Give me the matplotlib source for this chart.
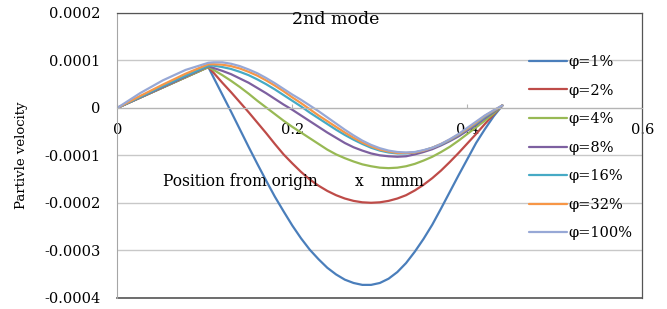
import numpy as np
import matplotlib
matplotlib.use("Agg")
import matplotlib.pyplot as plt

# position from origin (mm) at which the velocities were read
X = [0, 0.026, 0.052, 0.078, 0.104,
     0.11, 0.12, 0.13, 0.14, 0.15, 0.16, 0.17, 0.18, 0.19, 0.20,
     0.21, 0.22, 0.23, 0.24, 0.25, 0.26, 0.27, 0.28, 0.29, 0.30,
     0.31, 0.32, 0.33, 0.34, 0.35, 0.36, 0.37, 0.38, 0.39, 0.40,
     0.41, 0.42, 0.43, 0.44]

# particle velocity, in units of 1e-4
V_1 = [0, 0.215, 0.43, 0.645, 0.86,
       0.64, 0.28, -0.08, -0.45, -0.82, -1.18, -1.53, -1.87, -2.18, -2.48,
       -2.75, -2.99, -3.19, -3.37, -3.51, -3.62, -3.69, -3.73, -3.73, -3.69,
       -3.60, -3.46, -3.27, -3.03, -2.76, -2.46, -2.12, -1.77, -1.42, -1.08,
       -0.74, -0.45, -0.18, 0.05]
V_2 = [0, 0.215, 0.43, 0.645, 0.86,
       0.74, 0.53, 0.33, 0.12, -0.09, -0.31, -0.53, -0.76, -0.98, -1.17,
       -1.35, -1.51, -1.64, -1.75, -1.84, -1.91, -1.96, -1.99, -2.00, -1.99,
       -1.96, -1.91, -1.84, -1.74, -1.62, -1.48, -1.32, -1.14, -0.95, -0.75,
       -0.55, -0.34, -0.14, 0.05]
V_4 = [0, 0.215, 0.43, 0.645, 0.86,
       0.80, 0.69, 0.57, 0.44, 0.30, 0.15, 0.01, -0.13, -0.27, -0.40,
       -0.52, -0.64, -0.76, -0.88, -0.98, -1.06, -1.13, -1.19, -1.23, -1.26,
       -1.27, -1.26, -1.23, -1.18, -1.11, -1.03, -0.93, -0.82, -0.69, -0.55,
       -0.41, -0.27, -0.12, 0.05]
V_8 = [0, 0.22, 0.44, 0.66, 0.88,
       0.84, 0.78, 0.71, 0.62, 0.53, 0.42, 0.31, 0.19, 0.07, -0.04,
       -0.16, -0.28, -0.40, -0.52, -0.63, -0.74, -0.83, -0.90, -0.96, -1.00,
       -1.02, -1.03, -1.02, -0.98, -0.93, -0.87, -0.79, -0.70, -0.60, -0.48,
       -0.36, -0.22, -0.09, 0.05]
V_16 = [0, 0.23, 0.46, 0.68, 0.89,
        0.89, 0.86, 0.82, 0.76, 0.69, 0.60, 0.50, 0.39, 0.27, 0.15,
        0.03, -0.10, -0.22, -0.34, -0.46, -0.57, -0.67, -0.76, -0.84, -0.90,
        -0.94, -0.96, -0.96, -0.94, -0.90, -0.84, -0.77, -0.68, -0.57, -0.45,
        -0.33, -0.19, -0.07, 0.05]
V_32 = [0, 0.25, 0.49, 0.72, 0.92,
        0.92, 0.91, 0.88, 0.83, 0.76, 0.68, 0.58, 0.47, 0.35, 0.22,
        0.10, -0.03, -0.16, -0.28, -0.40, -0.52, -0.63, -0.73, -0.81, -0.88,
        -0.92, -0.95, -0.95, -0.94, -0.90, -0.84, -0.76, -0.67, -0.56, -0.44,
        -0.31, -0.17, -0.06, 0.05]
V_100 = [0, 0.31, 0.58, 0.80, 0.95,
         0.96, 0.96, 0.93, 0.88, 0.81, 0.73, 0.63, 0.52, 0.40, 0.28,
         0.17, 0.05, -0.07, -0.20, -0.33, -0.46, -0.58, -0.69, -0.78, -0.85,
         -0.90, -0.93, -0.94, -0.93, -0.89, -0.84, -0.76, -0.66, -0.55, -0.42,
         -0.29, -0.16, -0.05, 0.05]
SCALE = 1e-4

LABELS = ["φ=1%", "φ=2%", "φ=4%", "φ=8%", "φ=16%", "φ=32%", "φ=100%"]
COLORS = ["#4a7ebb", "#be4b48", "#98b954", "#7d60a0", "#46aac5", "#f79646", "#97a8d6"]

Y_TICKS = [0.0002, 0.0001, 0, -0.0001, -0.0002, -0.0003, -0.0004]
Y_TICK_LABELS = ["0.0002", "0.0001", "0", "-0.0001", "-0.0002", "-0.0003", "-0.0004"]
X_TICKS = [0, 0.2, 0.4, 0.6]
X_TICK_LABELS = ["0", "0.2", "0.4", "0.6"]

plt.rcParams["font.family"] = ["DejaVu Serif"]

fig = plt.figure(figsize=(6.67, 3.09), dpi=100)
ax = fig.add_axes([0.1759, 0.0366, 0.963 - 0.1759, 0.958 - 0.0366])

series = [V_1, V_2, V_4, V_8, V_16, V_32, V_100]
for v, lab, c in zip(series, LABELS, COLORS):
    ax.plot(X, np.array(v) * SCALE, color=c, lw=1.6, label=lab,
            solid_joinstyle="round", solid_capstyle="round")

ax.set_xlim(0, 0.6)
ax.set_ylim(-0.0004, 0.0002)
ax.set_yticks(Y_TICKS)
ax.set_yticklabels(Y_TICK_LABELS)
ax.set_xticks(X_TICKS)
ax.set_xticklabels(X_TICK_LABELS)
ax.grid(axis="y", color="#c8c8c8", lw=1)
ax.set_axisbelow(True)

# x axis crosses at y=0, plot area keeps its own border
ax.spines["bottom"].set_position(("data", 0))
ax.spines["bottom"].set_color("#b4b4b4")
ax.spines["left"].set_color("#a6a6a6")
for s in ("top", "right"):
    ax.spines[s].set_color("#555555")
    ax.spines[s].set_linewidth(0.9)
ax.axhline(-0.0004, color="#555555", lw=1.2, clip_on=False)

ax.tick_params(axis="y", length=0, pad=12, labelsize=10.5)
ax.tick_params(axis="x", direction="in", length=3, color="#b4b4b4", pad=11, labelsize=10.5)

ax.set_ylabel("Partivle velocity", fontsize=9.5, labelpad=12)
fig.text(336 / 667, 1 - 20 / 309, "2nd mode", fontsize=12.5, ha="center", va="center")
ytxt = 1 - 181 / 309
fig.text(163 / 667, ytxt, "Position from origin", fontsize=11.2, ha="left", va="center")
fig.text(359 / 667, ytxt, "x", fontsize=11.2, ha="center", va="center")
fig.text(380 / 667, ytxt, "mmm", fontsize=11.2, ha="left", va="center")

fig.legend(loc="upper left", bbox_to_anchor=(529 / 667, 1 - 55 / 309),
           frameon=False, fontsize=10.5, handlelength=2.6, handletextpad=0.1,
           labelspacing=1.0, borderpad=0, borderaxespad=0)

fig.savefig("out.png", dpi=100)
